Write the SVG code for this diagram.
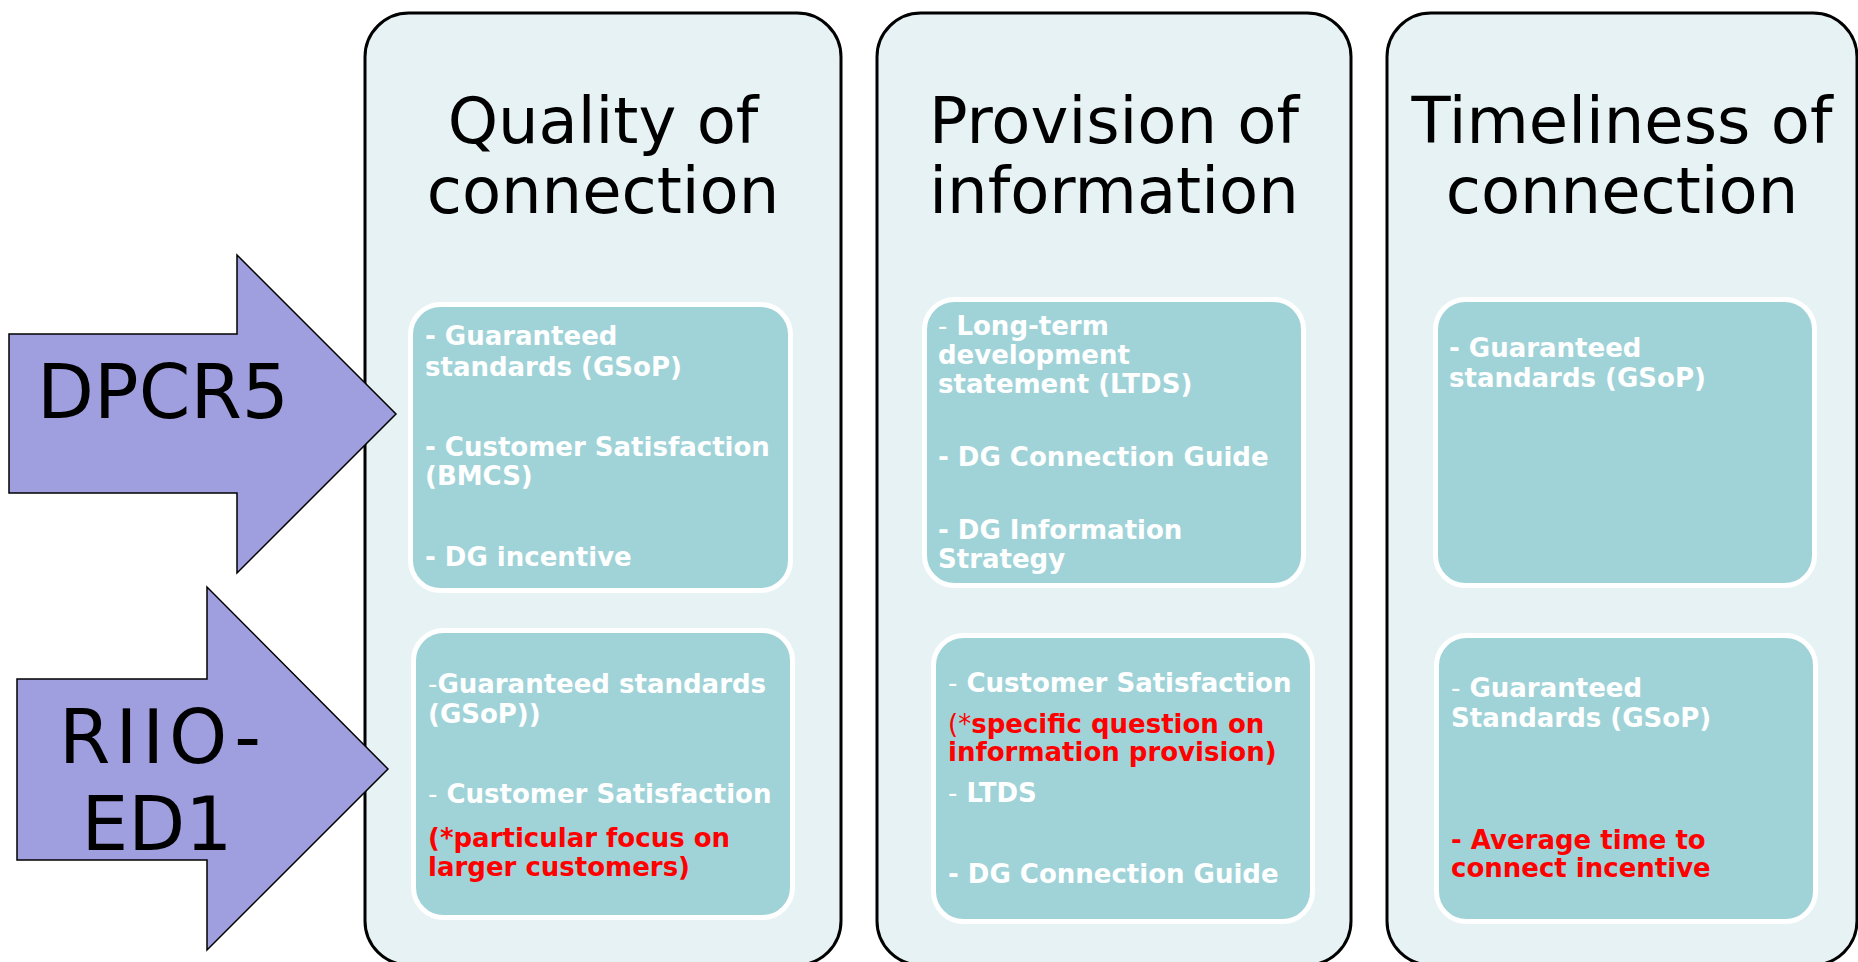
<svg xmlns="http://www.w3.org/2000/svg" width="1858" height="962" viewBox="0 0 1858 962">
<style>
.panel{fill:#E6F2F4;stroke:#000;stroke-width:3}
.box{fill:#A0D3D8;stroke:#fff;stroke-width:5}
.arrow{fill:#9F9EDE;stroke:#000;stroke-width:1.5;stroke-linejoin:miter}
.title{font-family:"DejaVu Sans",Verdana,sans-serif;font-size:64px;fill:#000;text-anchor:middle}
.big{font-family:"DejaVu Sans",Verdana,sans-serif;font-size:74px;fill:#000}
.t{font-family:"DejaVu Sans",Verdana,sans-serif;font-size:26px;font-weight:bold;fill:#fff}
.r{fill:#FF0000}
.n{font-weight:normal}
</style>
<rect width="1858" height="962" fill="#fff"/>
<g id="panel-quality">
<rect class="panel" x="365" y="13" width="476" height="952" rx="44" ry="44"/>
<text class="title" x="603" y="143">Quality of</text>
<text class="title" x="603" y="213">connection</text>
</g>
<g id="panel-provision">
<rect class="panel" x="877" y="13" width="474" height="952" rx="44" ry="44"/>
<text class="title" x="1114" y="143">Provision of</text>
<text class="title" x="1114" y="213">information</text>
</g>
<g id="panel-timeliness">
<rect class="panel" x="1387" y="13" width="470" height="952" rx="44" ry="44"/>
<text class="title" x="1622" y="143">Timeliness of</text>
<text class="title" x="1622" y="213">connection</text>
</g>
<g id="box-quality-dpcr5">
<rect class="box" x="410.500" y="304.500" width="380" height="286" rx="30"/>
<text class="t" x="425" y="345">- Guaranteed</text>
<text class="t" x="425" y="376">standards (GSoP)</text>
<text class="t" x="425" y="456">- Customer Satisfaction</text>
<text class="t" x="425" y="485">(BMCS)</text>
<text class="t" x="425" y="566">- DG incentive</text>
</g>
<g id="box-quality-riio">
<rect class="box" x="413.500" y="630.500" width="379" height="287" rx="30"/>
<text class="t" x="428" y="693"><tspan class="n">-</tspan>Guaranteed standards</text>
<text class="t" x="428" y="723">(GSoP))</text>
<text class="t" x="428" y="803"><tspan class="n">-</tspan> Customer Satisfaction</text>
<text class="t r" x="428" y="847">(*particular focus on</text>
<text class="t r" x="428" y="876">larger customers)</text>
</g>
<g id="box-provision-dpcr5">
<rect class="box" x="924.500" y="299.500" width="379" height="286" rx="30"/>
<text class="t" x="938" y="335"><tspan class="n">-</tspan> Long-term</text>
<text class="t" x="938" y="364">development</text>
<text class="t" x="938" y="393">statement (LTDS)</text>
<text class="t" x="938" y="466">- DG Connection Guide</text>
<text class="t" x="938" y="539">- DG Information</text>
<text class="t" x="938" y="568">Strategy</text>
</g>
<g id="box-provision-riio">
<rect class="box" x="933.500" y="635.500" width="379" height="286" rx="30"/>
<text class="t" x="948" y="692"><tspan class="n">-</tspan> Customer Satisfaction</text>
<text class="t r" x="948" y="733"><tspan class="n">(*</tspan>specific question on</text>
<text class="t r" x="948" y="761">information provision)</text>
<text class="t" x="948" y="802"><tspan class="n">-</tspan> LTDS</text>
<text class="t" x="948" y="883">- DG Connection Guide</text>
</g>
<g id="box-timeliness-dpcr5">
<rect class="box" x="1435.500" y="299.500" width="379" height="286" rx="30"/>
<text class="t" x="1449" y="357">- Guaranteed</text>
<text class="t" x="1449" y="387">standards (GSoP)</text>
</g>
<g id="box-timeliness-riio">
<rect class="box" x="1436.500" y="635.500" width="379" height="286" rx="30"/>
<text class="t" x="1451" y="697"><tspan class="n">-</tspan> Guaranteed</text>
<text class="t" x="1451" y="727">Standards (GSoP)</text>
<text class="t r" x="1451" y="849">- Average time to</text>
<text class="t r" x="1451" y="877">connect incentive</text>
</g>
<g id="arrow-dpcr5">
<polygon class="arrow" points="9,334 237,334 237,255 396,414 237,573 237,493 9,493"/>
<text class="big" x="163" y="418" text-anchor="middle">DPCR5</text>
</g>
<g id="arrow-riio-ed1">
<polygon class="arrow" points="17,679 207,679 207,587 388,769 207,950 207,860 17,860"/>
<text class="big" x="59" y="763" letter-spacing="5">RIIO-</text>
<text class="big" x="157" y="850" text-anchor="middle">ED1</text>
</g>
<g id="connectors"/>
</svg>
